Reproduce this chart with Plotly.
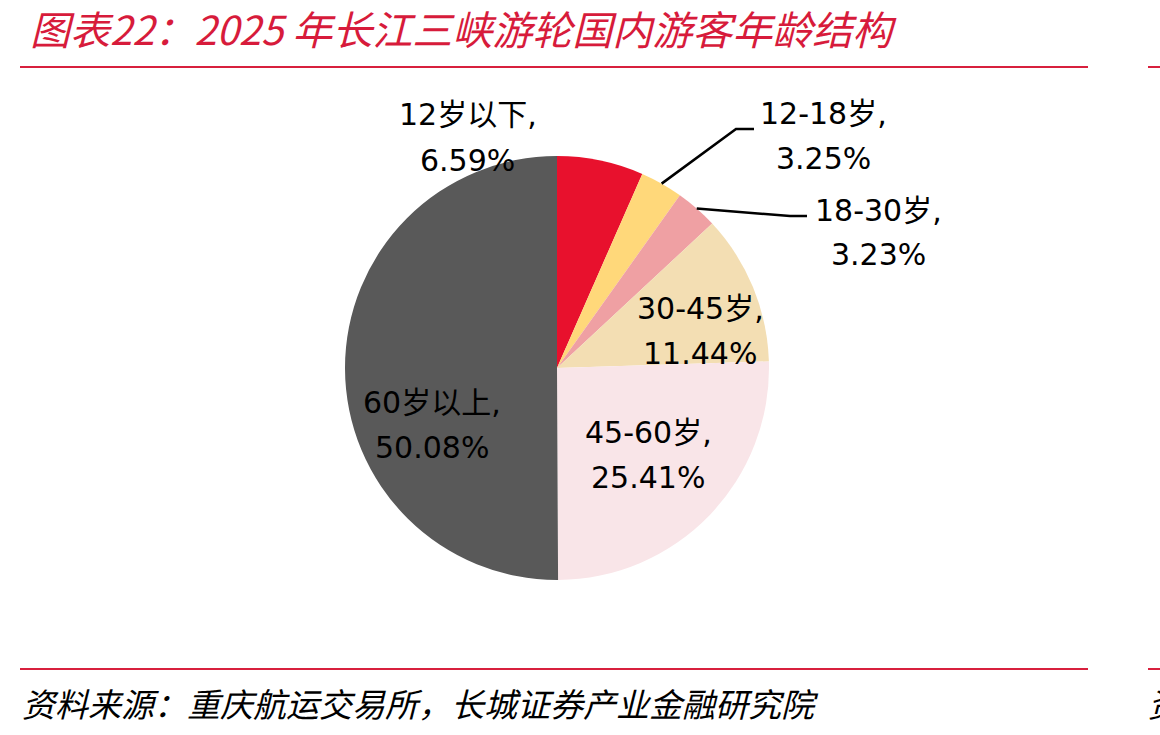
import math
import plotly.graph_objects as go

# ---- data ----
categories = ["12岁以下", "12-18岁", "18-30岁", "30-45岁", "45-60岁", "60岁以上"]
shares = [6.59, 3.25, 3.23, 11.44, 25.41, 50.08]
colors = ["#E8112D", "#FFD87A", "#EFA0A3", "#F3DEB3", "#F9E5E8", "#595959"]

title_text = "图表22：2025 年长江三峡游轮国内游客年龄结构"
source_text = "资料来源：重庆航运交易所，长城证券产业金融研究院"

W, H = 1160, 735
CX, CY, R = 557, 368, 212  # pie centre / radius in pixels


def px(x):
    return x / W


def py(y):
    return 1 - y / H


fig = go.Figure()
fig.add_trace(go.Pie(
    labels=categories,
    values=shares,
    sort=False,
    direction="clockwise",
    rotation=0,
    marker=dict(colors=colors, line=dict(width=0)),
    textinfo="none",
    hoverinfo="skip",
    showlegend=False,
    domain=dict(x=[px(CX - R), px(CX + R)], y=[py(CY + R), py(CY - R)]),
))

# label centre positions (pixels) for the two lines of each label
label_pos = [(468, 115), (823, 113), (878, 210), (700, 308), (648, 432), (432, 402)]
LINE_GAP = 45
label_font = dict(family="DejaVu Sans, Noto Sans CJK SC", size=30, color="#000000")

annotations = []
for cat, val, (lx, ly) in zip(categories, shares, label_pos):
    annotations.append(dict(x=px(lx), y=py(ly), xref="paper", yref="paper",
                            text=f"{cat},", showarrow=False, font=label_font,
                            xanchor="center", yanchor="middle"))
    annotations.append(dict(x=px(lx), y=py(ly + LINE_GAP), xref="paper", yref="paper",
                            text=f"{val:.2f}%", showarrow=False, font=label_font,
                            xanchor="center", yanchor="middle"))

# title and source
annotations.append(dict(x=px(28), y=py(28), xref="paper", yref="paper",
                        text=f"<i>{title_text}</i>", showarrow=False,
                        font=dict(family="Noto Sans CJK SC", size=40, color="#D71B3B"),
                        xanchor="left", yanchor="middle"))
annotations.append(dict(x=px(20), y=py(703), xref="paper", yref="paper",
                        text=f"<i>{source_text}</i>", showarrow=False,
                        font=dict(family="Noto Sans CJK SC", size=33, color="#000000"),
                        xanchor="left", yanchor="middle"))
annotations.append(dict(x=px(1146), y=py(703), xref="paper", yref="paper",
                        text="<i>资</i>", showarrow=False,
                        font=dict(family="Noto Sans CJK SC", size=33, color="#000000"),
                        xanchor="left", yanchor="middle"))

shapes = []
red = "#D8203E"
for yy in (67, 669):
    shapes.append(dict(type="line", xref="paper", yref="paper",
                       x0=px(20), x1=px(1088), y0=py(yy), y1=py(yy),
                       line=dict(color=red, width=2)))
    shapes.append(dict(type="line", xref="paper", yref="paper",
                       x0=px(1148), x1=px(1162), y0=py(yy), y1=py(yy),
                       line=dict(color=red, width=2)))


# leader lines for small slices, starting at slice mid-angle on the edge
def edge_point(idx):
    cum = sum(shares[:idx]) + shares[idx] / 2
    ang = math.radians(cum / sum(shares) * 360)
    return CX + R * math.sin(ang), CY - R * math.cos(ang)


leaders = {1: [(736, 129), (754, 129)], 2: [(790, 216), (807, 216)]}
for idx, pts in leaders.items():
    x0, y0 = edge_point(idx)
    path = f"M {px(x0)} {py(y0)}"
    for (x, y) in pts:
        path += f" L {px(x)} {py(y)}"
    shapes.append(dict(type="path", xref="paper", yref="paper", path=path,
                       line=dict(color="#000000", width=2.5)))

fig.update_layout(
    width=W, height=H,
    margin=dict(l=0, r=0, t=0, b=0),
    paper_bgcolor="white", plot_bgcolor="white",
    annotations=annotations,
    shapes=shapes,
)

fig.write_html("out.html")
